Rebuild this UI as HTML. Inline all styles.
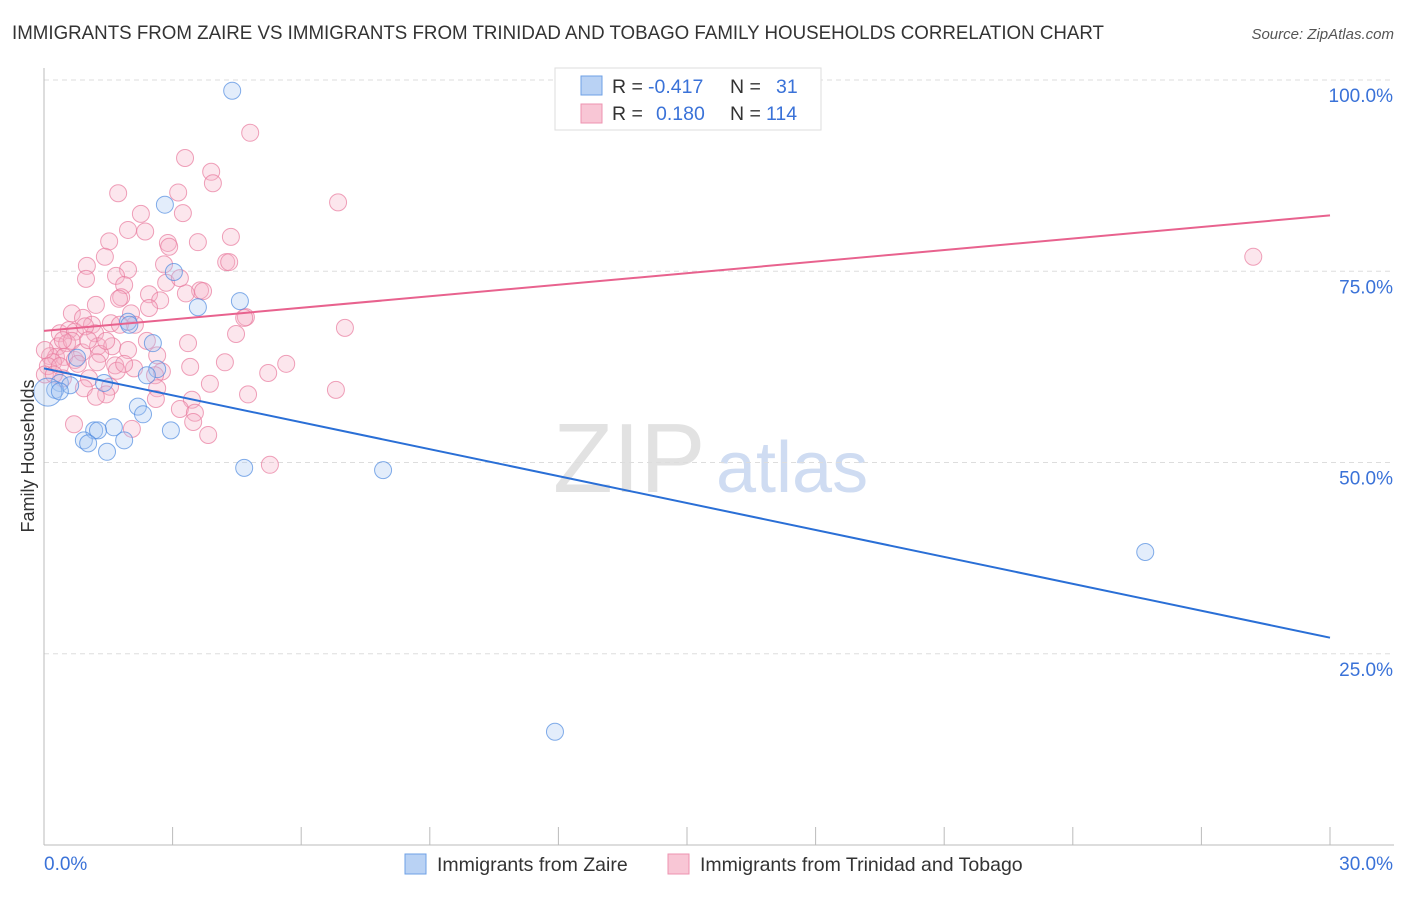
<!DOCTYPE html>
<html><head><meta charset="utf-8"><style>
body{margin:0;background:#fff;font-family:"Liberation Sans",sans-serif;}
svg text{font-family:"Liberation Sans",sans-serif;}
</style></head><body>
<svg id="chart" width="1406" height="892" xmlns="http://www.w3.org/2000/svg">
<text x="12" y="39" font-size="19" fill="#333" textLength="1092" lengthAdjust="spacingAndGlyphs">IMMIGRANTS FROM ZAIRE VS IMMIGRANTS FROM TRINIDAD AND TOBAGO FAMILY HOUSEHOLDS CORRELATION CHART</text>
<text x="1394" y="39" font-size="15" fill="#555" font-style="italic" text-anchor="end">Source: ZipAtlas.com</text>
<g>
<text x="553" y="492" font-size="98" font-family="Liberation Serif" fill="#e2e2e2">ZIP</text>
<text x="716" y="492" font-size="72" fill="#cfdcf2">atlas</text>
</g>
<g id="grid"></g>
<line x1="44" y1="68" x2="44" y2="845" stroke="#bbb"/>
<line x1="44" y1="845" x2="1394" y2="845" stroke="#bbb"/>
<g id="marks"></g>
<text transform="translate(34,456) rotate(-90)" font-size="18" fill="#333" text-anchor="middle">Family Households</text>
<text x="44" y="870" font-size="19" fill="#3a72d8">0.0%</text>
<text x="1393" y="870" font-size="19" fill="#3a72d8" text-anchor="end">30.0%</text>
<g>
<rect x="555" y="68" width="266" height="62" fill="#fff" stroke="#ddd"/>
<rect x="581" y="76" width="21" height="19" fill="#b9d2f4" stroke="#6ea0e6"/>
<rect x="581" y="104" width="21" height="19" fill="#f8c6d5" stroke="#ee93b0"/>
<text x="612" y="93" font-size="19.5" fill="#333">R = </text><text x="648" y="93" font-size="19.5" fill="#3a72d8">-0.417</text>
<text x="730" y="93" font-size="19.5" fill="#333">N = </text><text x="776" y="93" font-size="19.5" fill="#3a72d8">31</text>
<text x="612" y="120" font-size="19.5" fill="#333">R = </text><text x="656" y="120" font-size="19.5" fill="#3a72d8">0.180</text>
<text x="730" y="120" font-size="19.5" fill="#333">N = </text><text x="766" y="120" font-size="19.5" fill="#3a72d8">114</text>
</g>
<g>
<rect x="405" y="854" width="21" height="20" fill="#b9d2f4" stroke="#6ea0e6"/>
<text x="437" y="871" font-size="19.5" fill="#333">Immigrants from Zaire</text>
<rect x="668" y="854" width="21" height="20" fill="#f8c6d5" stroke="#ee93b0"/>
<text x="700" y="871" font-size="19.5" fill="#333">Immigrants from Trinidad and Tobago</text>
</g>
</svg>
<script>
const yTicks=[25,50,75,100];
const yTickLabels=["25.0%","50.0%","75.0%","100.0%"];
const xTicks=[0,3,6,9,12,15,18,21,24,27,30];
const zaireX=[4.39,2.82,3.03,4.57,3.59,1.96,2.54,2.64,2.40,0.37,0.26,0.61,1.40,0.77,2.19,2.31,1.63,1.17,1.26,0.93,1.03,1.87,1.47,2.96,4.67,7.91,25.69,11.92,0.09,0.37,1.99];
const zaireY=[98.6,83.7,74.9,71.1,70.3,68.4,65.6,62.2,61.4,60.4,59.5,60.1,60.4,63.7,57.3,56.3,54.6,54.2,54.2,52.9,52.5,52.9,51.4,54.2,49.3,49.0,38.3,14.8,59.2,59.3,68.0];
const trinX=[4.81,3.29,3.90,3.94,6.86,3.13,1.73,3.24,2.26,1.96,2.36,1.52,2.89,2.92,3.59,4.36,1.42,4.25,4.32,2.80,1.00,1.96,1.68,0.98,2.85,1.87,3.64,3.31,3.71,2.45,1.80,1.75,2.71,0.65,2.03,4.71,0.91,1.56,1.12,2.12,7.02,4.48,0.37,0.58,0.72,1.19,1.77,0.96,0.33,0.54,0.65,0.44,1.26,1.59,2.40,3.36,0.14,0.28,0.47,1.31,0.72,1.96,4.22,5.65,1.24,2.10,3.41,5.23,2.75,0.21,0.09,0.37,0.02,1.66,2.59,0.44,3.87,1.05,2.64,6.81,0.93,1.54,4.76,1.45,1.21,2.61,3.45,3.17,3.52,3.48,0.70,2.05,3.83,5.27,28.21,4.67,2.45,3.17,1.21,1.45,0.89,0.79,1.70,0.02,0.23,1.03,1.87,2.64];
const trinY=[93.1,89.8,88.0,86.5,84.0,85.3,85.2,82.6,82.5,80.4,80.2,78.9,78.7,78.2,78.8,79.5,76.9,76.2,76.2,75.9,75.7,75.2,74.4,74.0,73.5,73.2,72.5,72.1,72.4,72.0,71.6,71.4,71.2,69.5,69.5,69.0,68.9,68.2,68.0,68.0,67.6,66.8,66.9,67.3,67.1,66.9,68.0,67.8,65.2,65.6,65.9,66.0,65.2,65.2,65.9,65.6,63.9,63.8,63.8,64.2,63.4,64.7,63.1,62.9,63.1,62.3,62.5,61.7,61.9,63.1,62.6,62.6,64.7,62.7,61.4,61.0,60.3,61.0,59.7,59.5,59.7,59.9,58.9,58.9,58.6,58.3,58.2,57.0,56.5,55.3,55.0,54.4,53.6,49.7,76.9,68.9,70.2,74.1,70.6,65.9,64.4,62.9,62.0,61.5,61.5,66.0,62.9,64.0];
const zaireTrendX=[0,30];
const zaireTrendY=[62.3,27.1];
const trinTrendX=[0,30];
const trinTrendY=[67.2,82.3];

const sx=v=>44+v*(1286/30);
const sy=v=>845-v*7.65;
const NS="http://www.w3.org/2000/svg";
const grid=document.getElementById('grid'), marks=document.getElementById('marks'), svg=document.getElementById('chart');
yTicks.forEach((t,i)=>{
  const l=document.createElementNS(NS,'line');
  
  
  l.setAttribute('x1',44);l.setAttribute('x2',1394);l.setAttribute('y1',sy(t));l.setAttribute('y2',sy(t));
  l.setAttribute('stroke','#ddd');l.setAttribute('stroke-dasharray','5,4');
  grid.appendChild(l);
  const tx=document.createElementNS(NS,'text');
  
  
  tx.setAttribute('x',1393);tx.setAttribute('y',sy(t)+22);tx.setAttribute('text-anchor','end');
  tx.setAttribute('font-size','19');tx.setAttribute('fill','#3a72d8');tx.textContent=yTickLabels[i];
  svg.appendChild(tx);
});
xTicks.forEach(t=>{
  const l=document.createElementNS(NS,'line');
  
  
  l.setAttribute('x1',sx(t));l.setAttribute('x2',sx(t));l.setAttribute('y1',827);l.setAttribute('y2',845);
  l.setAttribute('stroke','#bbb');
  grid.appendChild(l);
});
function dot(x,y,r,fill,stroke,name){
  const c=document.createElementNS(NS,'circle');
  
  
  c.setAttribute('cx',sx(x));c.setAttribute('cy',sy(y));c.setAttribute('r',r);
  c.setAttribute('fill',fill);c.setAttribute('fill-opacity','0.32');c.setAttribute('stroke',stroke);c.setAttribute('stroke-opacity','0.7');
  marks.appendChild(c);
}
trinX.forEach((x,i)=>dot(x,trinY[i],8.5,'#f5b0c6','#e8799c','trinidad-point'));
zaireX.forEach((x,i)=>dot(x,zaireY[i],i===28?14:8.5,'#a8c8f2','#4f8ae0','zaire-point'));
function trend(xs,ys,color,name){
  const l=document.createElementNS(NS,'line');
  
  
  l.setAttribute('x1',sx(xs[0]));l.setAttribute('y1',sy(ys[0]));l.setAttribute('x2',sx(xs[1]));l.setAttribute('y2',sy(ys[1]));
  l.setAttribute('stroke',color);l.setAttribute('stroke-width','2');
  marks.appendChild(l);
}
trend(trinTrendX,trinTrendY,'#e8628e','trinidad-trend-line');
trend(zaireTrendX,zaireTrendY,'#2a6fd6','zaire-trend-line');
</script>
</body></html>
